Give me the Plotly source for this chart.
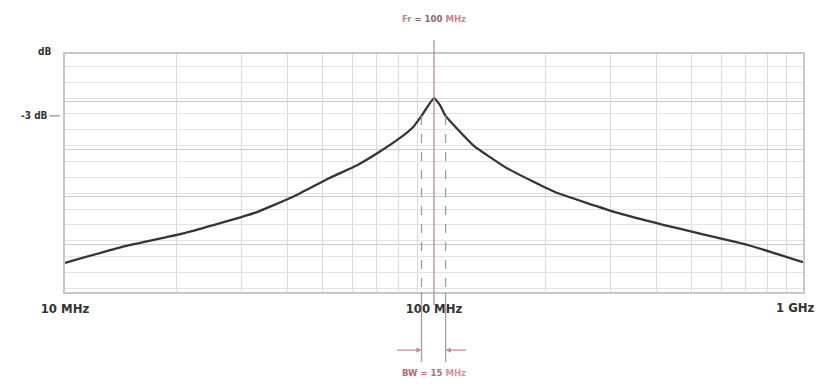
import numpy as np
import plotly.graph_objects as go

# response curve (frequency in MHz, level in dB)
freq_mhz = [10, 14.3, 21.1, 32.7, 41.5, 52.3, 61.9, 70.5, 80.9, 87.7, 92.5, 100,
            103.8, 107.5, 127.5, 157.7, 212.7, 315, 417.6, 519, 709.6, 1000]
level_db = [-27.7, -25.0, -22.7, -19.3, -16.6, -13.4, -11.3, -9.2, -6.7, -4.9, -3.0, 0,
            -1.2, -3.0, -7.9, -11.8, -15.8, -19.3, -21.3, -22.7, -24.7, -27.6]

tick_vals = [10, 100, 1000]
tick_text = ["10 MHz", "100 MHz", "1 GHz"]
minor_vals = [20, 30, 40, 50, 60, 70, 80, 90, 200, 300, 400, 500, 600, 700, 800, 900]

fr = 100
bw_lo, bw_hi = 92.5, 107.5
fr_label = "<b><span style='color:#c8848f'>Fr</span> = 100 <span style='color:#c8848f'>MHz</span></b>"
bw_label = "<b>BW = 15 <span style='color:#d495a2'>MHz</span></b>"

FONT = "DejaVu Sans Condensed, Liberation Sans Narrow, Roboto, sans-serif"
PINK = "#b46a77"

fig = go.Figure()
fig.add_scatter(x=freq_mhz, y=level_db, mode="lines", line_shape="spline",
                line=dict(color="#383436", width=2.3, smoothing=0.4), hoverinfo="skip")

# marker lines
fig.add_shape(type="line", xref="x", yref="paper", x0=fr, x1=fr, y0=-0.055, y1=1.059,
              line=dict(color="#b88e96", width=1.3))
for f in (bw_lo, bw_hi):
    fig.add_shape(type="line", xref="x", yref="y", x0=f, x1=f, y0=-3, y1=-32.6,
                  line=dict(color="#a49a9c", width=1.3, dash="dash"))
    fig.add_shape(type="line", xref="x", yref="paper", x0=f, x1=f, y0=0, y1=-0.294,
                  line=dict(color="#a4a0a0", width=1.3))

# -3 dB tick
fig.add_shape(type="line", xref="paper", yref="y", x0=-0.021, x1=-0.007, y0=-3, y1=-3,
              line=dict(color="#777", width=1))

fig.add_annotation(x=np.log10(fr), xref="x", y=1.151, yref="paper", yanchor="middle",
                   text=fr_label, showarrow=False,
                   font=dict(color="#7e6a6e", size=9.5, family=FONT))
fig.add_annotation(x=np.log10(fr), xref="x", y=-0.338, yref="paper", yanchor="middle",
                   text=bw_label, showarrow=False, font=dict(color=PINK, size=9.5, family=FONT))
fig.add_annotation(x=0, xref="paper", y=-3, yref="y", yanchor="middle", text="<b>-3 dB</b>",
                   xanchor="right", xshift=-15, showarrow=False,
                   font=dict(color="#333", size=10, family=FONT))
fig.add_annotation(x=0, xref="paper", y=1.01, yref="paper", yanchor="middle", text="<b>dB</b>",
                   xanchor="right", xshift=-12, showarrow=False,
                   font=dict(color="#333", size=10, family=FONT))
# last frequency label sits a little left of its grid line in the original
fig.add_annotation(x=np.log10(tick_vals[-1]), xref="x", y=-0.067, yref="paper",
                   yanchor="middle", xanchor="center", xshift=-8, text="<b>%s</b>" % tick_text[-1],
                   showarrow=False, font=dict(color="#333", size=13, family=FONT))

# bandwidth arrows
fig.add_annotation(x=np.log10(bw_lo), xref="x", y=-0.244, yref="paper", text="",
                   ax=-26, ay=0, showarrow=True, arrowhead=2, arrowsize=0.8, arrowwidth=1.3,
                   arrowcolor="#c88a94")
fig.add_annotation(x=np.log10(bw_hi), xref="x", y=-0.244, yref="paper", text="",
                   ax=22, ay=0, showarrow=True, arrowhead=2, arrowsize=0.8, arrowwidth=1.3,
                   arrowcolor="#c88a94")

fig.update_xaxes(type="log", range=[1, 3], tickvals=tick_vals[:-1],
                 ticktext=["<b>%s</b>" % t for t in tick_text[:-1]],
                 showgrid=False, showline=True, mirror=True, linecolor="#c4c8c8", linewidth=1.5,
                 ticks="", ticklabelstandoff=4, zeroline=False, automargin=False,
                 tickfont=dict(color="#333", size=13, family=FONT),
                 minor=dict(tickvals=minor_vals, showgrid=True, gridcolor="#d6dada", gridwidth=1))
fig.update_yaxes(range=[-32.6, 7.4], tick0=7.4, dtick=8, showticklabels=False,
                 showgrid=True, gridcolor="#c9cdcd", gridwidth=1.3, zeroline=False,
                 showline=True, mirror=True, linecolor="#c4c8c8", linewidth=1.5, ticks="",
                 automargin=False,
                 minor=dict(dtick=8 / 3, showgrid=True, gridcolor="#e1e4e4", gridwidth=1))

# the page body adds an 8px offset, so the figure is sized to fit the window
fig.update_layout(width=811, height=372, margin=dict(l=57, r=16, t=46, b=88),
                  paper_bgcolor="white", plot_bgcolor="white", showlegend=False,
                  font=dict(family=FONT, size=10, color="#333"))
fig.write_html("out.html")
